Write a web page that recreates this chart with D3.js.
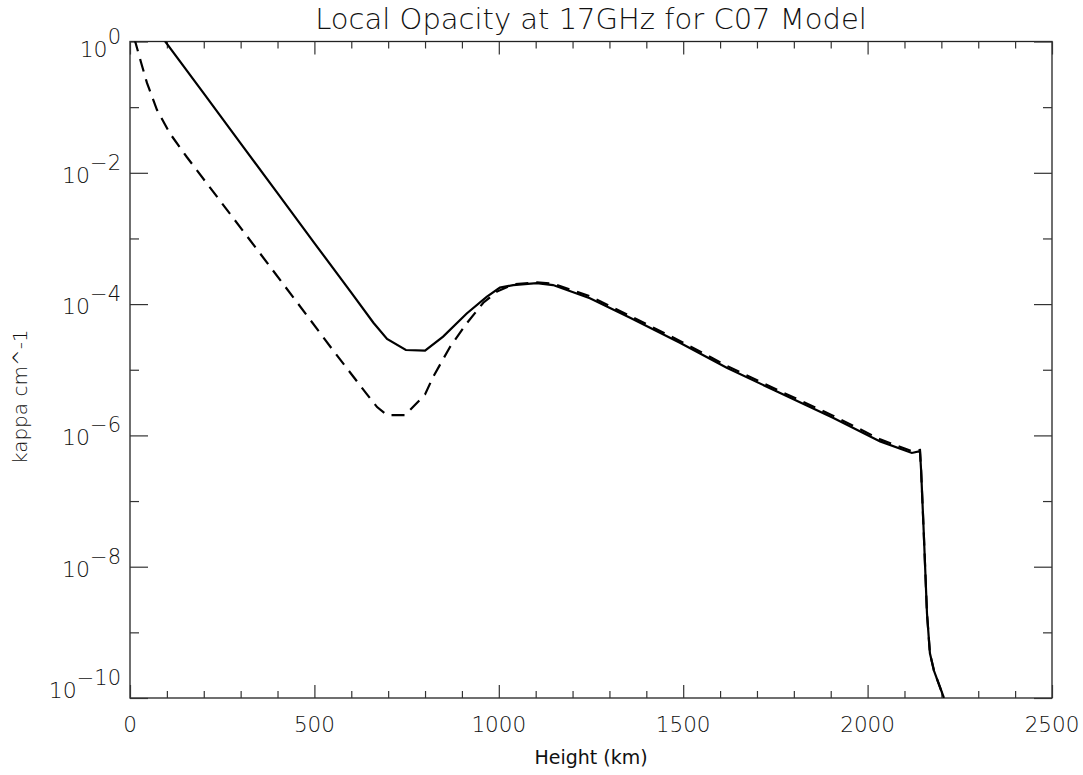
<!DOCTYPE html>
<html>
<head>
<meta charset="utf-8">
<script src="https://cdn.jsdelivr.net/npm/d3@7"></script>
<style>
  html, body { margin: 0; padding: 0; background: #fff; }
  svg { display: block; }
  .lbl { font-family: "DejaVu Sans", sans-serif; font-weight: 200; fill: #111; }
  .axt { font-family: "DejaVu Sans", sans-serif; fill: #111; }
</style>
</head>
<body>
<svg id="chart" width="1083" height="775"></svg>
<script>
// ---- data ----
const title = "Local Opacity at 17GHz for C07 Model";
const xTitle = "Height (km)";
const yTitle = "kappa cm^-1";
const xMajorTicks = [0, 500, 1000, 1500, 2000, 2500];
const yMajorExps = [0, -2, -4, -6, -8, -10];

const solidHeight = [90, 200, 300, 400, 500, 600, 660, 697, 748, 800, 849, 913, 967, 1003, 1039, 1103, 1147, 1247, 1356, 1491, 1618, 1760, 1906, 2034, 2120, 2142, 2145, 2152, 2161, 2169, 2180, 2192, 2207];
const solidKappa  = [1.1, 0.162, 0.028, 4.9e-3, 8.5e-4, 1.5e-4, 5.2e-5, 2.95e-5, 2.0e-5, 1.95e-5, 3.2e-5, 7.2e-5, 1.29e-4, 1.78e-4, 1.95e-4, 2.09e-4, 1.95e-4, 1.23e-4, 6.2e-5, 2.57e-5, 1.07e-5, 4.5e-6, 1.86e-6, 8.1e-7, 5.4e-7, 5.75e-7, 3.0e-7, 3.6e-8, 1.95e-9, 4.8e-10, 2.6e-10, 1.7e-10, 1.0e-10];

const dashHeight = [12, 30, 46, 73, 108, 154, 250, 350, 450, 550, 640, 670, 697, 746, 800, 822, 868, 913, 958, 995, 1039, 1103, 1147, 1247, 1356, 1491, 1618, 1760, 1906, 2034, 2120, 2142, 2145, 2152, 2161, 2169, 2180, 2192, 2207];
const dashKappa  = [1.1, 0.48, 0.234, 0.091, 0.040, 0.0174, 3.4e-3, 6.2e-4, 1.12e-4, 2.0e-5, 4.4e-6, 2.7e-6, 2.04e-6, 2.04e-6, 4.2e-6, 7.8e-6, 2.24e-5, 5.1e-5, 1.05e-4, 1.55e-4, 2.0e-4, 2.14e-4, 2.04e-4, 1.32e-4, 6.6e-5, 2.75e-5, 1.15e-5, 4.8e-6, 2.0e-6, 8.7e-7, 5.75e-7, 6.0e-7, 3.0e-7, 3.6e-8, 1.95e-9, 4.8e-10, 2.6e-10, 1.7e-10, 1.0e-10];

// ---- layout ----
const L = 130, R = 1052, T = 41.5, B = 698;
const svg = d3.select("#chart");
const x = d3.scaleLinear().domain([0, 2500]).range([L, R]);
const y = d3.scaleLog().domain([1e-10, 1]).range([B, T]);

svg.append("defs").append("clipPath").attr("id", "clip")
  .append("rect").attr("x", L).attr("y", T).attr("width", R - L).attr("height", B - T);

// frame
svg.append("rect").attr("x", L).attr("y", T).attr("width", R - L).attr("height", B - T)
  .attr("fill", "none").attr("stroke", "#222").attr("stroke-width", 1.3);

const xMinor = d3.range(0, 2501, 100).filter(v => v % 500 !== 0);
const yMinor = d3.range(-1, -10, -2).map(e => Math.pow(10, e));
const yMajor = yMajorExps.map(e => Math.pow(10, e));

function styleAxis(g) {
  g.select(".domain").remove();
  g.selectAll(".tick line").attr("stroke", "#333").attr("stroke-width", 1.2);
  g.selectAll(".tick text").remove();
}
// bottom
svg.append("g").attr("transform", `translate(0,${B})`)
  .call(d3.axisBottom(x).tickValues(xMajorTicks).tickSize(-13)).call(styleAxis);
svg.append("g").attr("transform", `translate(0,${B})`)
  .call(d3.axisBottom(x).tickValues(xMinor).tickSize(-7)).call(styleAxis);
// top
svg.append("g").attr("transform", `translate(0,${T})`)
  .call(d3.axisTop(x).tickValues(xMajorTicks).tickSize(-13)).call(styleAxis);
svg.append("g").attr("transform", `translate(0,${T})`)
  .call(d3.axisTop(x).tickValues(xMinor).tickSize(-7)).call(styleAxis);
// left
svg.append("g").attr("transform", `translate(${L},0)`)
  .call(d3.axisLeft(y).tickValues(yMajor).tickSize(-18)).call(styleAxis);
svg.append("g").attr("transform", `translate(${L},0)`)
  .call(d3.axisLeft(y).tickValues(yMinor).tickSize(-9)).call(styleAxis);
// right
svg.append("g").attr("transform", `translate(${R},0)`)
  .call(d3.axisRight(y).tickValues(yMajor).tickSize(-18)).call(styleAxis);
svg.append("g").attr("transform", `translate(${R},0)`)
  .call(d3.axisRight(y).tickValues(yMinor).tickSize(-9)).call(styleAxis);

// x tick labels
svg.append("g").selectAll("text").data(xMajorTicks).join("text")
  .attr("class", "lbl").attr("x", d => x(d)).attr("y", B + 34)
  .attr("text-anchor", "middle").attr("font-size", 21.5).text(d => d);

// y tick labels
const yl = svg.append("g").selectAll("text").data(yMajorExps).join("text")
  .attr("class", "lbl").attr("text-anchor", "end").attr("font-size", 22)
  .attr("x", L - 9)
  .attr("y", (d, i) => y(Math.pow(10, d)) + (i === 0 ? 15 : (i === yMajorExps.length - 1 ? 0 : 10)));
yl.append("tspan").text("10");
yl.append("tspan").attr("dy", -13).attr("font-size", 21).text(d => d === 0 ? "0" : "\u2212" + Math.abs(d));

// curves
const line = d3.line().x(d => x(d[0])).y(d => y(d[1]));
const solid = solidHeight.map((h, i) => [h, solidKappa[i]]);
const dashed = dashHeight.map((h, i) => [h, dashKappa[i]]);
const plot = svg.append("g").attr("clip-path", "url(#clip)");
plot.append("path").datum(dashed).attr("d", line).attr("fill", "none")
  .attr("stroke", "#000").attr("stroke-width", 2.2).attr("stroke-dasharray", "13,8");
plot.append("path").datum(solid).attr("d", line).attr("fill", "none")
  .attr("stroke", "#000").attr("stroke-width", 2.2);

// titles
svg.append("text").attr("class", "lbl").attr("x", (L + R) / 2).attr("y", 29)
  .attr("text-anchor", "middle").attr("font-size", 29).text(title);
svg.append("text").attr("class", "axt").attr("x", (L + R) / 2).attr("y", 764)
  .attr("text-anchor", "middle").attr("font-size", 19).text(xTitle);
svg.append("text").attr("class", "lbl")
  .attr("transform", `translate(27,${(T + B) / 2 + 27}) rotate(-90)`)
  .attr("text-anchor", "middle").attr("font-size", 20).text(yTitle);
</script>
</body>
</html>
